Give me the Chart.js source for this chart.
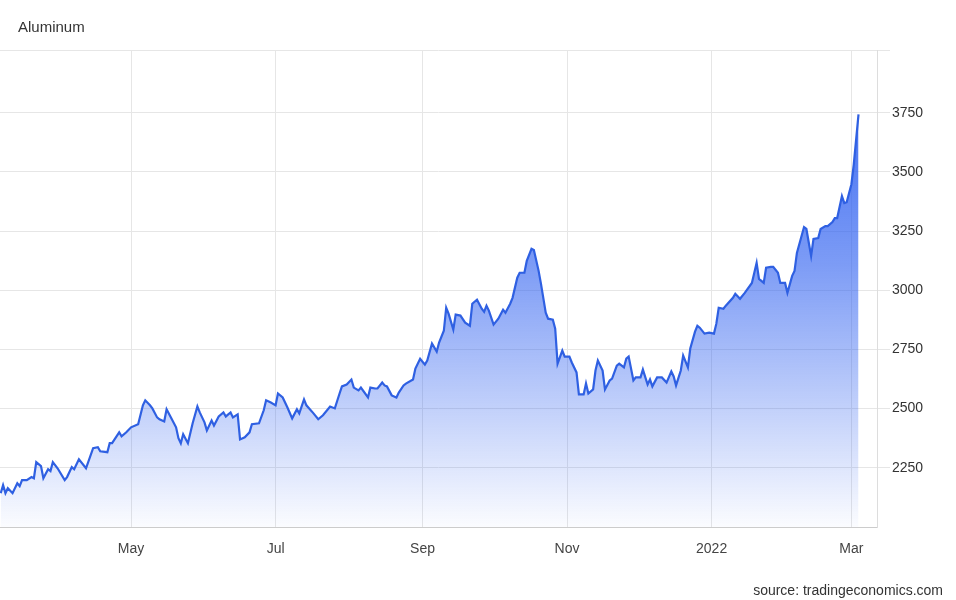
<!DOCTYPE html>
<html>
<head>
<meta charset="utf-8">
<script src="https://cdn.jsdelivr.net/npm/chart.js@4/dist/chart.umd.min.js"></script>
<style>
  html, body { margin: 0; padding: 0; background: #fff; }
  #wrap { position: relative; width: 956px; height: 600px; font-family: "Liberation Sans", Arial, sans-serif; }
  #title { position: absolute; left: 18px; top: 18px; font-size: 15px; color: #333; }
  #source { position: absolute; right: 13px; top: 582px; font-size: 14px; color: #333; }
  canvas { position: absolute; left: 0; top: 0; }
</style>
</head>
<body>
<div id="wrap">
  <canvas id="chart" width="956" height="600"></canvas>
  <div id="title">Aluminum</div>
  <div id="source">source: tradingeconomics.com</div>
</div>
<script>
// days counted from 1 May 2021
const days = [
  -55, -54, -53, -52, -50, -48, -47, -46, -44, -42, -41, -40, -38, -37, -35, -34, -33, -31, -28, -27,
  -25, -24, -22, -19, -16, -14, -13, -10, -9, -8, -5, -4, -2, 0, 3, 5, 6, 8, 9, 11,
  12, 14, 15, 17, 19, 20, 21, 22, 24, 26, 28, 29, 31, 32, 34, 35, 37, 39, 40, 42,
  43, 45, 46, 48, 50, 51, 54, 56, 57, 59, 61, 62, 64, 66, 68, 70, 71, 73, 74, 77,
  79, 81, 84, 86, 88, 89, 91, 93, 94, 96, 97, 100, 101, 103, 104, 106, 107, 108, 110, 112,
  113, 115, 116, 119, 120, 122, 124, 125, 127, 129, 130, 132, 133, 134, 136, 137, 139, 141, 143, 144,
  146, 148, 149, 150, 151, 153, 155, 157, 158, 160, 161, 163, 164, 166, 167, 169, 170, 172, 173, 175,
  176, 178, 179, 180, 182, 183, 185, 186, 188, 189, 191, 192, 193, 195, 196, 197, 199, 200, 202, 203,
  205, 206, 208, 209, 210, 212, 213, 215, 216, 218, 219, 220, 222, 224, 226, 228, 229, 230, 232, 233,
  235, 236, 238, 239, 240, 242, 244, 246, 247, 248, 250, 251, 254, 255, 257, 259, 262, 264, 265, 267,
  268, 270, 271, 273, 274, 276, 277, 279, 280, 281, 284, 285, 287, 288, 290, 291, 293, 294, 296, 297,
  298, 300, 301, 302, 304, 305, 307
];
const prices = [
  2143, 2177, 2143, 2164, 2143, 2185, 2173, 2198, 2198, 2211, 2206, 2274, 2257, 2206, 2244, 2236, 2274, 2248, 2198, 2211,
  2253, 2244, 2286, 2248, 2333, 2337, 2320, 2316, 2354, 2354, 2400, 2383, 2400, 2421, 2434, 2514, 2535, 2514, 2501, 2463,
  2455, 2446, 2497, 2459, 2421, 2375, 2354, 2392, 2354, 2438, 2509, 2484, 2442, 2408, 2450, 2429, 2467, 2484, 2467, 2484,
  2463, 2476, 2370, 2379, 2400, 2434, 2438, 2493, 2535, 2526, 2514, 2564, 2547, 2505, 2459, 2497, 2480, 2539, 2514, 2480,
  2455, 2472, 2509, 2501, 2564, 2594, 2602, 2623, 2589, 2577, 2589, 2547, 2589, 2585, 2585, 2610, 2598, 2594, 2556, 2547,
  2568, 2598, 2606, 2623, 2669, 2711, 2686, 2703, 2775, 2741, 2779, 2829, 2926, 2901, 2834, 2897, 2893, 2863, 2850, 2943,
  2960, 2922, 2909, 2935, 2914, 2855, 2880, 2918, 2905, 2943, 2968, 3053, 3074, 3074, 3124, 3175, 3170, 3082, 3027, 2905,
  2880, 2876, 2838, 2690, 2745, 2720, 2720, 2695, 2653, 2560, 2560, 2606, 2564, 2581, 2661, 2703, 2661, 2581, 2619, 2627,
  2682, 2690, 2674, 2711, 2720, 2619, 2632, 2632, 2665, 2602, 2623, 2594, 2632, 2632, 2610, 2657, 2636, 2598, 2661, 2724,
  2674, 2754, 2825, 2850, 2842, 2817, 2821, 2817, 2859, 2926, 2922, 2935, 2968, 2985, 2964, 2989, 3031, 3116, 3048, 3031,
  3095, 3099, 3099, 3074, 3031, 3031, 2989, 3061, 3082, 3158, 3267, 3259, 3145, 3217, 3221, 3259, 3271, 3271, 3288, 3305,
  3305, 3398, 3368, 3372, 3448, 3532, 3743
];
const tickDays = [0, 61, 123, 184, 245, 304];
const tickLabels = ['May', 'Jul', 'Sep', 'Nov', '2022', 'Mar'];
const yTicks = [2000, 2250, 2500, 2750, 3000, 3250, 3500, 3750, 4015];

const points = days.map((d, i) => ({ x: d, y: prices[i] }));

const ctx = document.getElementById('chart').getContext('2d');

const chart = new Chart(ctx, {
    type: 'line',
    data: {
        datasets: [{
            label: 'Aluminum',
            data: points,
            borderColor: '#2f60e2',
            borderWidth: 2.2,
            pointRadius: 0,
            tension: 0,
            fill: 'start',
            backgroundColor: (c) => {
                const area = c.chart.chartArea;
                if (!area) return 'rgba(45,95,240,0.4)';
                const g = c.chart.ctx.createLinearGradient(0, area.top, 0, area.bottom);
                g.addColorStop(0, 'rgba(45,95,240,1)');
                g.addColorStop(0.45, 'rgba(45,95,240,0.62)');
                g.addColorStop(1, 'rgba(45,95,240,0.02)');
                return g;
            }
        }]
    },
    options: {
        responsive: false,
        devicePixelRatio: 1,
        animation: false,
        layout: { padding: { top: 50, left: 0, right: 0, bottom: 33 } },
        plugins: { legend: { display: false }, tooltip: { enabled: false } },
        scales: {
            x: {
                type: 'linear',
                min: -55.3,
                max: 314.8,
                afterBuildTicks: (scale) => {
                    scale.ticks = tickDays.map(v => ({ value: v }));
                },
                afterFit: (scale) => { scale.height = 40; },
                grid: { color: '#e6e6e6', drawTicks: false },
                border: { color: '#cccccc' },
                ticks: {
                    autoSkip: false,
                    maxRotation: 0,
                    padding: 14,
                    color: '#444',
                    font: { size: 14, family: '"Liberation Sans", Arial, sans-serif' },
                    callback: (v, i) => tickLabels[i]
                }
            },
            y: {
                position: 'right',
                min: 2000,
                max: 4015,
                afterBuildTicks: (scale) => {
                    scale.ticks = yTicks.map(v => ({ value: v }));
                },
                afterFit: (scale) => { scale.width = 79; },
                grid: {
                    color: '#e6e6e6',
                    tickLength: 13,
                    tickColor: (c) => c.tick && c.tick.value === 2000 ? 'rgba(0,0,0,0)' : '#e6e6e6'
                },
                border: { color: '#dddddd' },
                ticks: {
                    padding: 2,
                    color: '#333',
                    font: { size: 14, family: '"Liberation Sans", Arial, sans-serif' },
                    callback: (v) => (v > 2000 && v < 4000) ? String(v) : ''
                }
            }
        }
    }
});
</script>
</body>
</html>
